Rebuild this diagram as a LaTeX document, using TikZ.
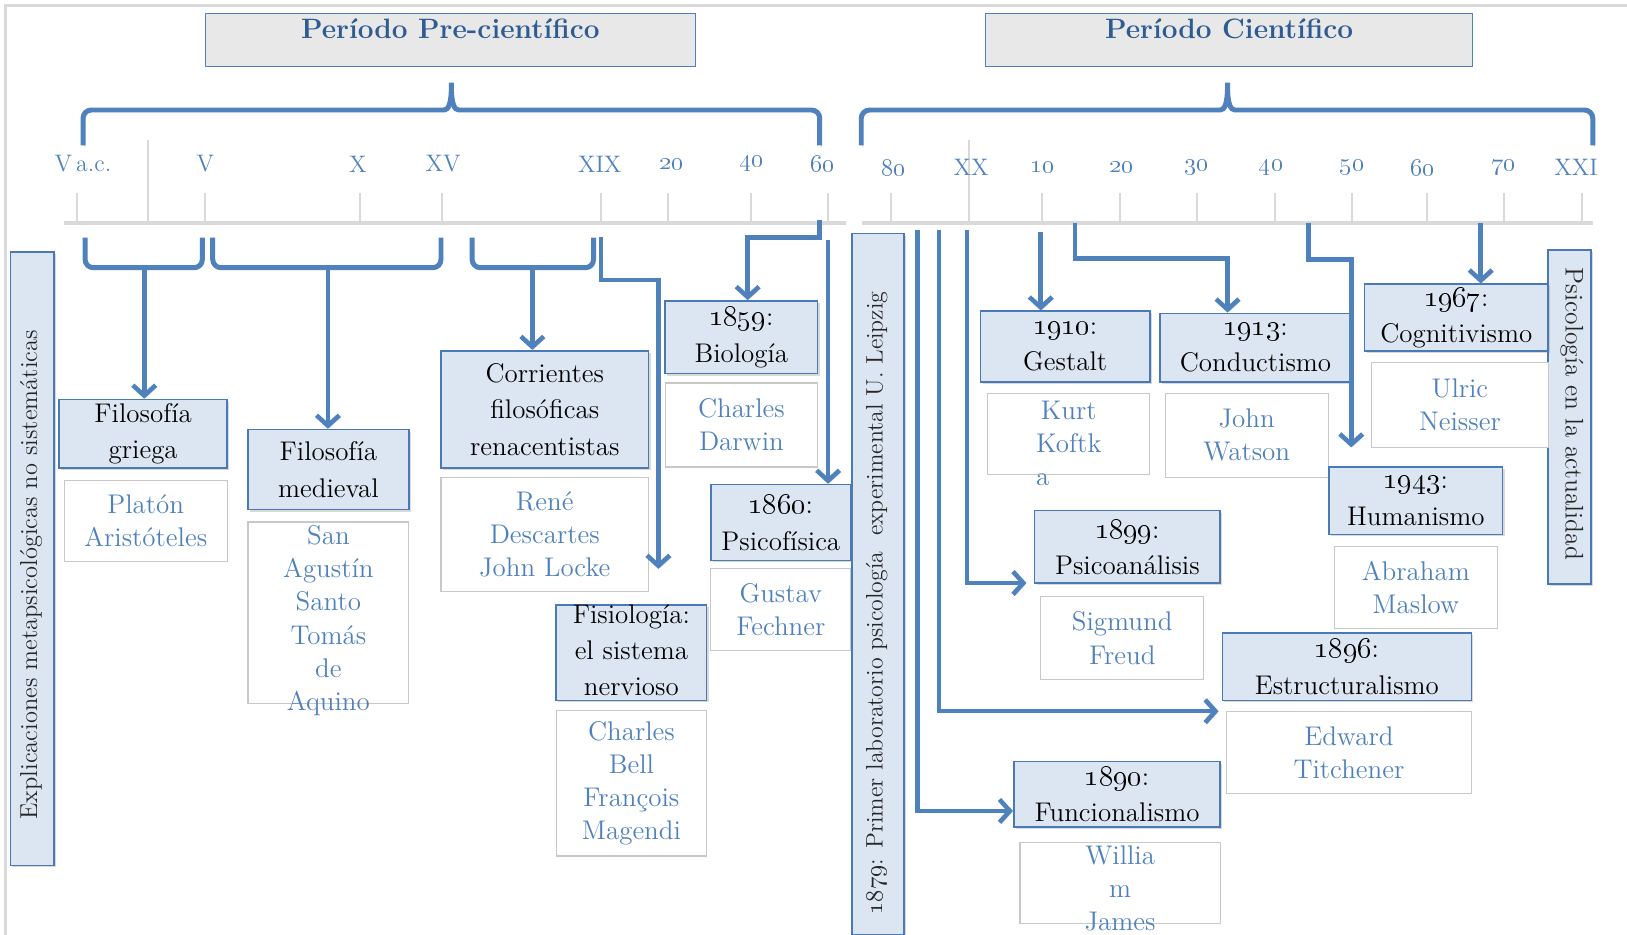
\documentclass[tikz,border=0pt]{standalone}
\usepackage{xcolor}
\usepackage{tikz}
\usetikzlibrary{arrows.meta,shadows}
\definecolor{lineblue}{HTML}{4F81BD}
\definecolor{boxline}{HTML}{4A7AB5}
\definecolor{boxfill}{HTML}{DCE6F2}
\definecolor{headfill}{HTML}{E8E8E8}
\definecolor{headblue}{HTML}{2E5C92}
\definecolor{namegray}{HTML}{C8C8C8}
\definecolor{tickgray}{HTML}{D9D9D9}
\newcommand{\yrnum}[1]{{\fontsize{15}{17.5}\selectfont\oldstylenums{#1}}}
\tikzset{
  link/.style={draw=lineblue, line width=2.2pt, -{Straight Barb[length=5pt,width=11pt]},
    preaction={draw=black!15, transform canvas={xshift=0.8pt,yshift=-0.8pt}}},
  brace/.style={draw=lineblue, line width=2.4pt, rounded corners=4pt,
    preaction={draw=black!15, transform canvas={xshift=0.8pt,yshift=-0.8pt}}},
  tickmark/.style={draw=tickgray, line width=1pt},
  axisline/.style={draw=tickgray, line width=1.6pt},
  yearlab/.style={text=lineblue, font=\fontsize{11.5}{13}\selectfont},
  headbox/.style={draw=lineblue, fill=headfill, line width=0.6pt, inner sep=0pt, text=headblue,
    font=\bfseries\fontsize{13.5}{15}\selectfont, text height=12pt, text depth=13.5pt},
  cattext/.style={text=black, align=center, font=\fontsize{13}{17.5}\selectfont},
  catbox/.style={cattext, draw=boxline, fill=boxfill, line width=0.8pt, inner sep=0pt,
    drop shadow={shadow xshift=1pt, shadow yshift=-1pt, opacity=0.3}},
  nametext/.style={text=lineblue, align=center, font=\fontsize{13}{16}\selectfont},
  namebox/.style={nametext, draw=namegray, fill=white, line width=0.6pt, inner sep=0pt},
  sidebar/.style={draw=boxline, fill=boxfill, line width=0.8pt, inner sep=0pt,
    drop shadow={shadow xshift=1pt, shadow yshift=-1pt, opacity=0.3}},
  bartext/.style={text=black!85}
}

\begin{document}
\begin{tikzpicture}[x=0.5pt, y=-0.5pt]
  \useasboundingbox (0,0) rectangle (1568,901);
  \draw[draw=tickgray, line width=1.5pt] (5,901) -- (5,5) -- (1568,5);

  % the two periods
  \node[headbox, minimum width=236pt, minimum height=25.5pt] (pre) at (434,38.5) {Período Pre-científico};
  \node[headbox, minimum width=234.5pt, minimum height=25.5pt] (cien) at (1184.5,38.5) {Período Científico};

  \draw[brace] (80,140) -- (80,106) -- (420,106) .. controls (432,106) and (435,100) .. (435,75)
    .. controls (435,100) and (438,106) .. (450,106) -- (790,106) -- (790,140);
  \draw[brace] (830,140) -- (830,106) -- (1168,106) .. controls (1180,106) and (1183,100) .. (1183,75)
    .. controls (1183,100) and (1186,106) .. (1198,106) -- (1535,106) -- (1535,140);

  % time line
  \draw[axisline] (62,215) -- (815,215);
  \draw[axisline] (831,215) -- (1535,215);
  \foreach \x in {74,198,347,426,579,644,724,798,859,1004,1079,1154,1229,1303,1375,1449,1525}
    \draw[tickmark] (\x,186) -- (\x,215);
  \foreach \x in {143,934}
    \draw[tickmark] (\x,135) -- (\x,215);
  \foreach \x/\t in {80/V\,a.c., 198/V, 345/X, 427/XV, 578/XIX, 647/\oldstylenums{20},
      724/\oldstylenums{40}, 793/\oldstylenums{60}}
    \node[yearlab] (yr-\x) at (\x,158) {\t};
  \foreach \x/\t in {861/\oldstylenums{80}, 936/XX, 1005/\oldstylenums{10}, 1081/\oldstylenums{20},
      1153/\oldstylenums{30}, 1225/\oldstylenums{40}, 1303/\oldstylenums{50}, 1371/\oldstylenums{60},
      1449/\oldstylenums{70}, 1519/XXI}
    \node[yearlab] (yr-\x) at (\x,161) {\t};

  % side bars
  \node[sidebar, minimum width=21pt, minimum height=295.5pt] (expl) at (31,538.5) {};
  \node[bartext, rotate=90, font=\fontsize{11.8}{13}\selectfont] (expl-t) at (30,554)
    {Explicaciones metapsicológicas no sistemáticas};
  \node[sidebar, minimum width=25pt, minimum height=338pt] (leip) at (846,563) {};
  \node[bartext, rotate=90, font=\fontsize{11.5}{13}\selectfont] (leip-t) at (845,581)
    {\oldstylenums{1879}: Primer laboratorio psicología\ \ experimental U. Leipzig};
  \node[sidebar, minimum width=20.5pt, minimum height=161pt] (actual) at (1512.5,402) {};
  \node[bartext, rotate=-90, font=\fontsize{12.3}{13}\selectfont] (actual-t) at (1515,399)
    {Psicología en la actualidad};

  % pre-scientific boxes
  \node[catbox, minimum width=81pt, minimum height=33pt] (griega) at (138,418) {Filosofía\\griega};
  \node[namebox, minimum width=78.5pt, minimum height=39pt] (ngriega) at (140.5,502) {Platón\\Aristóteles};
  \node[catbox, minimum width=77.5pt, minimum height=38.5pt] (medieval) at (316.5,452.5) {Filosofía\\medieval};
  \node[namebox, minimum width=77.5pt, minimum height=87.5pt,
    label={[nametext, yshift=-3.75pt]center:{San\\Agustín\\Santo\\Tomás\\de\\Aquino}}] (nmedieval) at (316.5,590.5) {};
  \node[catbox, minimum width=100pt, minimum height=56.5pt] (renac) at (525,394.5) {Corrientes\\filosóficas\\renacentistas};
  \node[namebox, minimum width=100pt, minimum height=55pt] (nrenac) at (525,515) {René\\Descartes\\John Locke};
  \node[catbox, minimum width=72.5pt, minimum height=46pt,
    label={[cattext, yshift=1.25pt]center:{Fisiología:\\el sistema\\nervioso}}] (fisio) at (608.5,629) {};
  \node[namebox, minimum width=72.5pt, minimum height=70pt] (nfisio) at (608.5,755) {Charles\\Bell\\François\\Magendi};
  \node[catbox, minimum width=73.5pt, minimum height=35pt] (bio) at (714.5,325) {\yrnum{1859}:\\Biología};
  \node[namebox, minimum width=73.5pt, minimum height=40.5pt] (nbio) at (714.5,409.5) {Charles\\Darwin};
  \node[catbox, minimum width=67.5pt, minimum height=36.5pt] (psicof) at (752.5,503.5) {\yrnum{1860}:\\Psicofísica};
  \node[namebox, minimum width=67.5pt, minimum height=39.5pt] (npsicof) at (752.5,587.5) {Gustav\\Fechner};

  % scientific boxes
  \node[catbox, minimum width=81.5pt, minimum height=34pt] (gestalt) at (1026.5,334) {\yrnum{1910}:\\Gestalt};
  \node[namebox, minimum width=78pt, minimum height=39pt,
    label={[nametext, yshift=-4.75pt]center:{Kurt\\Koftk\\\rlap{a}\phantom{Koftk}}}] (ngestalt) at (1030,418) {};
  \node[catbox, minimum width=92pt, minimum height=33pt] (conduct) at (1210,335) {\yrnum{1913}:\\Conductismo};
  \node[namebox, minimum width=78.5pt, minimum height=40.5pt] (nconduct) at (1201.5,419.5) {John\\Watson};
  \node[catbox, minimum width=88.5pt, minimum height=32pt] (cogni) at (1403.5,306) {\yrnum{1967}:\\Cognitivismo};
  \node[namebox, minimum width=85pt, minimum height=41pt] (ncogni) at (1407,390) {Ulric\\Neisser};
  \node[catbox, minimum width=83.5pt, minimum height=32.5pt] (human) at (1364.5,482.5) {\yrnum{1943}:\\Humanismo};
  \node[namebox, minimum width=78.5pt, minimum height=39.5pt] (nhuman) at (1364.5,566.5) {Abraham\\Maslow};
  \node[catbox, minimum width=89.5pt, minimum height=35pt] (psicoan) at (1086.5,527) {\yrnum{1899}:\\Psicoanálisis};
  \node[namebox, minimum width=78.5pt, minimum height=40pt] (npsicoan) at (1081.5,615) {Sigmund\\Freud};
  \node[catbox, minimum width=120pt, minimum height=32.5pt] (estruct) at (1298,642.5) {\yrnum{1896}:\\Estructuralismo};
  \node[namebox, minimum width=118pt, minimum height=39.5pt] (nestruct) at (1300,725.5) {Edward\\Titchener};
  \node[catbox, minimum width=99.5pt, minimum height=31.5pt] (funcion) at (1076.5,765.5) {\yrnum{1890}:\\Funcionalismo};
  \node[namebox, minimum width=96.5pt, minimum height=39pt,
    label={[nametext, yshift=-2.5pt]center:{Willia\\m\hspace*{1.3em}\\James}}] (nfuncion) at (1079.5,851) {};

  % small braces under the time line
  \coordinate (b1) at (139,258);
  \coordinate (b2) at (316,258);
  \coordinate (b3) at (513,258);
  \draw[brace] (82,229) |- (195,258) -- (195,229);
  \draw[brace] (205,229) |- (425,258) -- (425,229);
  \draw[brace] (455,229) |- (572,258) -- (572,229);
  \coordinate (kXIX) at (579,228);
  \coordinate (k60) at (790,212);
  \coordinate (k60b) at (798,231);
  \coordinate (kA) at (884,222);
  \coordinate (kB) at (905,222);
  \coordinate (kC) at (932,222);
  \coordinate (k10) at (1003,224);
  \coordinate (k20) at (1036,215);
  \coordinate (k50) at (1261,215);
  \coordinate (k70) at (1427,215);

  \draw[link] (b1) -- (b1 |- griega.north);
  \draw[link] (b2) -- (b2 |- medieval.north);
  \draw[link] (b3) -- (b3 |- renac.north);
  \draw[link, shorten >=17pt] (kXIX) -- ++(0,42) -| ([xshift=13pt]fisio.north);
  \draw[link] (k60) -- ++(0,17) -| ([xshift=3pt]bio.north);
  \draw[link] (k60b) -- (k60b |- psicof.north);
  \draw[link] (kA) |- ([yshift=-8pt]funcion.west);
  \draw[link] (kB) |- ([xshift=-3.5pt]nestruct.north west);
  \draw[link] (kC) |- ([xshift=-3.5pt,yshift=0.5pt]psicoan.south west);
  \draw[link] (k10) -- (k10 |- gestalt.north);
  \draw[link] (k20) -- ++(0,34) -| ([xshift=-13.5pt]conduct.north);
  \draw[link, shorten >=9pt] (k50) -- ++(0,35) -| ([xshift=11pt]human.north west);
  \draw[link] (k70) -- (k70 |- cogni.north);
\end{tikzpicture}
\end{document}
